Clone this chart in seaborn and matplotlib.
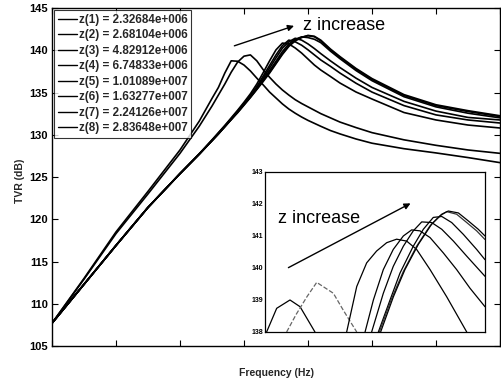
import matplotlib
matplotlib.use("Agg")
import matplotlib.pyplot as plt
import pandas as pd
import seaborn as sns

# ---------------- main plot data (frequency in arbitrary linear units) ----------------
freq = [0, 0.5, 1.0, 1.5, 2.0, 2.3, 2.5, 2.6, 2.7, 2.8, 2.9, 3.0, 3.1, 3.2, 3.3, 3.4,
        3.5, 3.6, 3.7, 3.8, 3.9, 4.0, 4.1, 4.2, 4.35, 4.5, 4.75, 5.0, 5.5, 6.0, 6.5, 7.0]

tvr_z1 = [107.7, 113.0, 118.5, 123.3, 128.2, 131.6, 134.3, 135.6, 137.3, 138.75, 138.7, 138.25,
          137.55, 136.7, 135.9, 135.05, 134.35, 133.65, 133.05, 132.55, 132.1, 131.7, 131.35, 131.0,
          130.5, 130.1, 129.5, 129.0, 128.35, 127.85, 127.3, 126.7]
tvr_z2 = [107.7, 112.9, 118.3, 123.0, 127.8, 131.0, 133.4, 134.7, 136.0, 137.4, 138.6, 139.3,
          139.45, 138.75, 137.7, 136.8, 136.0, 135.3, 134.7, 134.15, 133.7, 133.3, 132.9, 132.5,
          132.0, 131.5, 130.85, 130.25, 129.4, 128.75, 128.2, 127.8]
tvr_z3 = [107.7, 112.3, 116.9, 121.4, 125.4, 127.75, 129.4, 130.25, 131.1, 132.0, 132.9, 133.85,
          134.85, 136.0, 137.35, 138.75, 140.05, 140.85, 140.75, 140.27, 139.67, 138.96, 138.25, 137.66,
          136.9, 136.12, 135.06, 134.23, 132.63, 131.75, 131.15, 130.8]
tvr_z4 = [107.7, 112.3, 116.9, 121.4, 125.4, 127.7, 129.35, 130.2, 131.05, 131.9, 132.8, 133.7,
          134.65, 135.7, 136.95, 138.2, 139.45, 140.55, 141.2, 141.0, 140.6, 140.05, 139.45, 138.85,
          138.1, 137.3, 136.1, 135.05, 133.45, 132.35, 131.75, 131.39]
tvr_z5 = [107.7, 112.3, 116.9, 121.4, 125.4, 127.7, 129.3, 130.15, 131.0, 131.85, 132.75, 133.65,
          134.55, 135.55, 136.7, 137.9, 139.1, 140.25, 141.0, 141.42, 141.2, 140.75, 140.2, 139.6,
          138.75, 137.95, 136.7, 135.6, 133.95, 132.8, 132.05, 131.75]
tvr_z6 = [107.7, 112.3, 116.9, 121.4, 125.4, 127.7, 129.3, 130.1, 130.95, 131.8, 132.7, 133.6,
          134.5, 135.45, 136.5, 137.6, 138.7, 139.85, 140.75, 141.3, 141.58, 141.5, 141.3, 140.9,
          139.9, 139.0, 137.6, 136.4, 134.5, 133.3, 132.55, 132.0]
tvr_z7 = [107.7, 112.3, 116.9, 121.4, 125.4, 127.7, 129.3, 130.1, 130.95, 131.8, 132.65, 133.55,
          134.45, 135.4, 136.4, 137.4, 138.5, 139.6, 140.55, 141.2, 141.55, 141.72, 141.6, 141.1,
          140.05, 139.15, 137.75, 136.55, 134.65, 133.45, 132.75, 132.15]
tvr_z8 = [107.7, 112.3, 116.9, 121.4, 125.4, 127.7, 129.3, 130.1, 130.95, 131.8, 132.6, 133.5,
          134.4, 135.35, 136.3, 137.3, 138.4, 139.5, 140.45, 141.1, 141.5, 141.76, 141.65, 141.2,
          140.15, 139.25, 137.85, 136.65, 134.75, 133.55, 132.85, 132.25]

labels = ["z(1) = 2.32684e+006", "z(2) = 2.68104e+006", "z(3) = 4.82912e+006",
          "z(4) = 6.74833e+006", "z(5) = 1.01089e+007", "z(6) = 1.63277e+007",
          "z(7) = 2.24126e+007", "z(8) = 2.83648e+007"]

# ---------------- inset (zoomed peak region) data ----------------
in_f_z1 = [2.650, 2.725, 2.824, 2.899, 3.010]
in_v_z1 = [138.0, 138.74, 139.0, 138.79, 138.0]
in_f_z2 = [2.799, 2.87, 2.95, 3.023, 3.147, 3.221, 3.321]
in_v_z2 = [138.0, 138.55, 139.1, 139.55, 139.21, 138.68, 138.0]
in_f_z3 = [3.246, 3.321, 3.395, 3.469, 3.544, 3.618, 3.693, 3.767, 3.867, 3.991, 4.140]
in_v_z3 = [138.0, 139.42, 140.16, 140.53, 140.79, 140.9, 140.84, 140.58, 139.95, 139.1, 138.0]
in_f_z4 = [3.383, 3.445, 3.519, 3.593, 3.668, 3.730, 3.792, 3.867, 3.966, 4.065, 4.164, 4.276]
in_v_z4 = [138.0, 139.0, 139.95, 140.58, 141.0, 141.19, 141.16, 140.95, 140.47, 139.95, 139.37, 138.79]
in_f_z5 = [3.432, 3.519, 3.593, 3.668, 3.742, 3.805, 3.879, 3.954, 4.041, 4.140, 4.276]
in_v_z5 = [138.0, 139.21, 140.05, 140.68, 141.16, 141.44, 141.42, 141.21, 140.84, 140.37, 139.74]
in_f_z6 = [3.482, 3.569, 3.643, 3.742, 3.817, 3.891, 3.954, 4.028, 4.115, 4.214, 4.276]
in_v_z6 = [138.0, 139.0, 139.84, 140.68, 141.21, 141.58, 141.61, 141.42, 141.05, 140.58, 140.26]
in_f_z7 = [3.489, 3.581, 3.668, 3.767, 3.867, 3.941, 3.991, 4.065, 4.140, 4.214, 4.276]
in_v_z7 = [138.0, 139.05, 139.89, 140.68, 141.32, 141.63, 141.76, 141.68, 141.42, 141.16, 140.89]
in_f_z8 = [3.499, 3.594, 3.680, 3.780, 3.879, 3.954, 4.003, 4.078, 4.152, 4.226, 4.276]
in_v_z8 = [138.0, 139.1, 139.95, 140.74, 141.37, 141.68, 141.78, 141.72, 141.47, 141.21, 141.0]

main_vals = [tvr_z1, tvr_z2, tvr_z3, tvr_z4, tvr_z5, tvr_z6, tvr_z7, tvr_z8]
inset_f = [in_f_z1, in_f_z2, in_f_z3, in_f_z4, in_f_z5, in_f_z6, in_f_z7, in_f_z8]
inset_v = [in_v_z1, in_v_z2, in_v_z3, in_v_z4, in_v_z5, in_v_z6, in_v_z7, in_v_z8]

main_df = pd.concat([pd.DataFrame({"freq": freq, "tvr": v, "series": lab})
                     for v, lab in zip(main_vals, labels)], ignore_index=True)

sns.set_theme(style="white")
plt.rcParams['font.family'] = ['Liberation Sans', 'DejaVu Sans']

fig = plt.figure(figsize=(5.02, 3.85), dpi=100)
ax = fig.add_axes([0.1036, 0.1013, 0.8924, 0.8779])

sns.lineplot(data=main_df, x="freq", y="tvr", hue="series", hue_order=labels,
             palette=["black"] * 8, linewidth=1.2, estimator=None, sort=False, ax=ax)

ax.set_xlim(0, 7)
ax.set_ylim(105, 145)
ax.set_xticks(range(0, 8))
ax.set_xticklabels([])
ax.set_yticks(range(105, 146, 5))
ax.tick_params(axis="both", direction="in", length=4, width=0.8, top=True, right=True,
               bottom=True, left=True, colors="black", pad=3)
for lab in ax.get_yticklabels():
    lab.set_fontsize(8)
    lab.set_fontweight("bold")
for sp in ax.spines.values():
    sp.set_color("black")
    sp.set_linewidth(1.0)

ax.set_xlabel("Frequency (Hz)", fontsize=7.5, fontweight="bold")
ax.set_ylabel("TVR (dB)", fontsize=7.5, fontweight="bold")
ax.xaxis.set_label_coords(0.502, -0.065)
ax.yaxis.set_label_coords(-0.06, 0.49)

handles, _ = ax.get_legend_handles_labels()
leg = ax.legend(handles, labels, loc="upper left", fontsize=8.4, frameon=True, fancybox=False,
                edgecolor="black", borderaxespad=0.2, handlelength=1.6, handletextpad=0.2,
                labelspacing=0.3, borderpad=0.3)
leg.get_frame().set_linewidth(0.8)
for t in leg.get_texts():
    t.set_fontweight("bold")
for h in leg.get_lines():
    h.set_linewidth(1.0)

ax.annotate("", xy=(3.823, 142.99), xytext=(2.808, 140.42),
            arrowprops=dict(arrowstyle="-|>", color="black", lw=1.0, mutation_scale=9))
ax.text(3.92, 142.95, "z increase", fontsize=13, ha="left", va="center", color="black")

# ---------------- inset ----------------
axins = fig.add_axes([0.5279, 0.1377, 0.4382, 0.4156])
axins.set_facecolor("white")
styles = ["-", "--", "-", "-", "-", "-", "-", "-"]
colors = ["black", "#666666", "black", "black", "black", "black", "#333333", "black"]
for f, v, lab, ls, c in zip(inset_f, inset_v, labels, styles, colors):
    d = pd.DataFrame({"freq": f, "tvr": v})
    sns.lineplot(data=d, x="freq", y="tvr", color=c, linestyle=ls, linewidth=0.9,
                 estimator=None, sort=False, ax=axins, legend=False)
axins.set_xlim(2.638, 4.276)
axins.set_ylim(138, 143)
axins.set_yticks(range(138, 144))
axins.set_xticks([3.0, 3.5, 4.0])
axins.set_xticklabels([])
axins.set_xlabel("")
axins.set_ylabel("")
axins.tick_params(axis="both", direction="in", length=2.5, width=0.6, pad=1.5, colors="black")
for lab in axins.get_yticklabels():
    lab.set_fontsize(5)
    lab.set_fontweight("bold")
for sp in axins.spines.values():
    sp.set_color("black")
    sp.set_linewidth(0.9)
axins.annotate("", xy=(3.740, 142.06), xytext=(2.794, 139.97),
               arrowprops=dict(arrowstyle="-|>", color="black", lw=1.0, mutation_scale=9))
axins.text(2.735, 141.56, "z increase", fontsize=13, ha="left", va="center", color="black")

fig.savefig("out.png", dpi=100)
